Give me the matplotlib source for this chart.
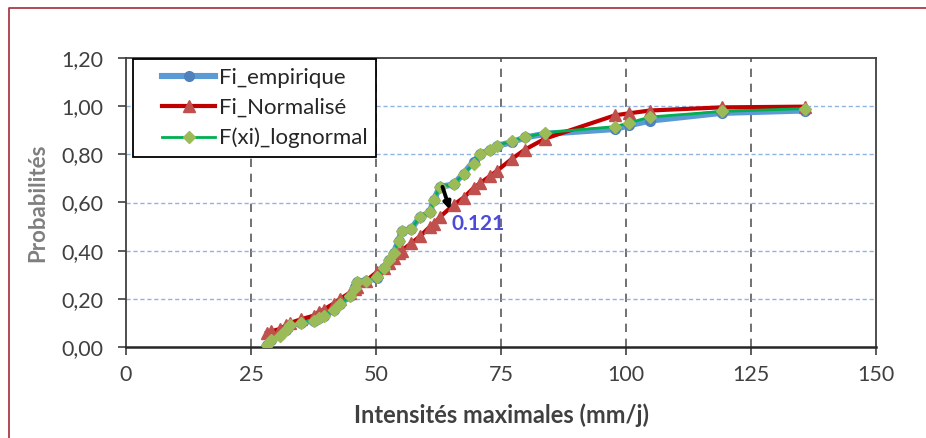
import matplotlib
matplotlib.use("Agg")
import matplotlib.pyplot as plt
from matplotlib.lines import Line2D
from matplotlib.legend_handler import HandlerLine2D
from matplotlib.ticker import FuncFormatter, MultipleLocator

plt.rcParams['font.family'] = ['Lato', 'DejaVu Sans']

# Data
intensites = [28.2, 29.0, 30.8, 32.0, 32.8, 35.0, 37.5, 38.5, 39.5, 41.5,
              42.8, 44.8, 45.8, 46.1, 48.0, 50.1, 51.5, 52.5, 53.5, 54.5,
              55.1, 57.0, 58.8, 60.8, 61.5, 62.8, 65.5, 67.5, 69.5, 70.8,
              72.8, 74.1, 77.1, 79.8, 83.8, 97.8, 100.5, 104.8, 119.1, 135.8]
fi_empirique = [0.010, 0.030, 0.050, 0.070, 0.090, 0.100, 0.110, 0.120, 0.130, 0.155,
                0.180, 0.210, 0.250, 0.270, 0.275, 0.285, 0.330, 0.360, 0.390, 0.440,
                0.480, 0.490, 0.540, 0.560, 0.610, 0.665, 0.675, 0.720, 0.770, 0.800,
                0.820, 0.835, 0.850, 0.870, 0.885, 0.905, 0.920, 0.940, 0.972, 0.982]
fi_normalise = [0.060, 0.065, 0.075, 0.090, 0.100, 0.115, 0.130, 0.145, 0.155, 0.180,
                0.200, 0.225, 0.240, 0.250, 0.275, 0.310, 0.330, 0.350, 0.370, 0.390,
                0.400, 0.430, 0.460, 0.500, 0.510, 0.540, 0.590, 0.620, 0.660, 0.680,
                0.710, 0.730, 0.780, 0.820, 0.865, 0.962, 0.970, 0.982, 0.995, 0.998]
f_lognormal = [0.010, 0.030, 0.045, 0.070, 0.090, 0.100, 0.110, 0.120, 0.130, 0.155,
               0.180, 0.210, 0.245, 0.270, 0.275, 0.290, 0.330, 0.360, 0.390, 0.440,
               0.480, 0.490, 0.540, 0.560, 0.610, 0.665, 0.675, 0.720, 0.760, 0.800,
               0.820, 0.835, 0.855, 0.870, 0.890, 0.915, 0.930, 0.955, 0.978, 0.990]
labels = ['Fi_empirique', 'Fi_Normalisé', 'F(xi)_lognormal']
ecart_label = '0.121'

W, H = 926, 438
fig = plt.figure(figsize=(W / 100, H / 100), dpi=100)
ax = fig.add_axes([126 / W, 1 - 347 / H, 750 / W, 289 / H])

ax.plot(intensites, fi_empirique, color='#5B9BD5', lw=4.4, marker='o', ms=7,
        mfc='#4F81BD', mec='#4F81BD', label=labels[0], zorder=3)
ax.plot(intensites, fi_normalise, color='#C00000', lw=3.0, marker='^', ms=9,
        mfc='#C0504D', mec='#C0504D', label=labels[1], zorder=4)
ax.plot(intensites, f_lognormal, color='#00B050', lw=2.0, marker='D', ms=6,
        mfc='#9BBB59', mec='#9BBB59', label=labels[2], zorder=5)

# deviation annotation
ax.annotate('', xy=(64.8, 0.57), xytext=(63.3, 0.665),
            arrowprops=dict(arrowstyle='-|>', color='black', lw=2.8,
                            mutation_scale=10, shrinkA=0, shrinkB=0), zorder=6)
ax.text(65.2, 0.512, ecart_label, color='#4B4BD8', fontsize=15, fontweight='bold',
        va='center', ha='left', zorder=6)

ax.set_xlim(0, 150)
ax.set_ylim(0, 1.2)
ax.xaxis.set_major_locator(MultipleLocator(25))
ax.yaxis.set_major_locator(MultipleLocator(0.2))
ax.yaxis.set_major_formatter(FuncFormatter(lambda v, p: f"{v:.2f}".replace('.', ',')))

for xv in [25, 50, 75, 100, 125]:
    ax.axvline(xv, color='#595959', lw=1.2, ls=(0, (5, 4)), zorder=1)
for yv in [0.2, 0.4, 0.6, 0.8, 1.0]:
    ax.axhline(yv, color='#8FB4E3', lw=1.0, ls=(0, (3, 2)), zorder=1)

for s in ax.spines.values():
    s.set_color('#404040')
    s.set_linewidth(1.3)
ax.spines['bottom'].set_linewidth(1.8)
ax.spines['bottom'].set_color('#262626')

ax.tick_params(axis='both', direction='out', length=6, width=1.2, color='#404040',
               labelsize=15.5, labelcolor='#404040')
ax.tick_params(axis='y', pad=10)
ax.tick_params(axis='x', pad=7)

ax.set_xlabel('Intensités maximales (mm/j)', fontsize=17, fontweight='bold',
              color='#404040', labelpad=13)
ax.set_ylabel('Probabilités', fontsize=16, fontweight='bold', color='#7F7F7F',
              labelpad=10)

leg = ax.legend(loc='upper left', bbox_to_anchor=(7 / 750, 0.997), borderaxespad=0,
                fancybox=False, framealpha=1, edgecolor='black', fontsize=16,
                handlelength=3.3, handletextpad=0.15, labelspacing=0.45,
                borderpad=0.4,
                handler_map={Line2D: HandlerLine2D(xpad=0.9)})
leg.get_frame().set_linewidth(1.3)
for t in leg.get_texts():
    t.set_color('#262626')

# dark red frame around the figure (top and left visible)
fig.add_artist(Line2D([8.5 / W, 8.5 / W, 1.0], [0, 1 - 7.5 / H, 1 - 7.5 / H],
                      transform=fig.transFigure, color='#A52A3A', lw=1.2))

fig.savefig('out.png', dpi=100)
